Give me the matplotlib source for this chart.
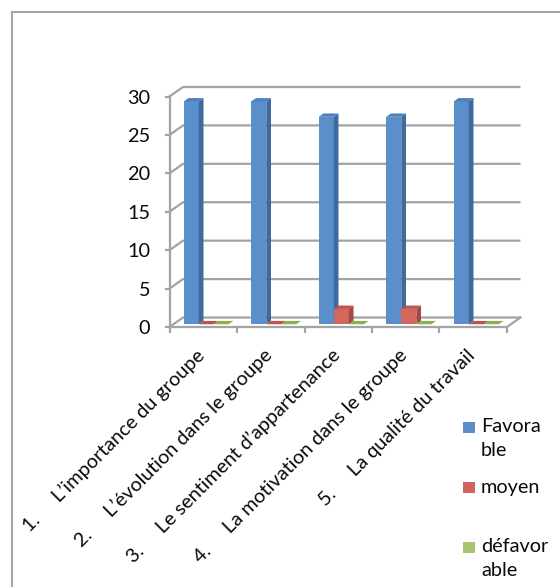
import matplotlib
matplotlib.use("Agg")
import matplotlib.pyplot as plt
from matplotlib.patches import Polygon, Rectangle
from matplotlib.lines import Line2D

plt.rcParams['font.family'] = ['Lato', 'DejaVu Sans']

# ---- data ----
categories = [
    "1.     L\u2019importance du groupe",
    "2.     L\u2019\u00e9volution dans le groupe",
    "3.     Le sentiment d\u2019appartenance",
    "4.     La motivation dans le groupe",
    "5.     La qualit\u00e9 du travail",
]
series_names = ["Favora\nble", "moyen", "d\u00e9favor\nable"]
favorable = [29, 29, 27, 27, 29]
moyen = [0, 0, 2, 2, 0]
defavorable = [0, 0, 0, 0, 0]
y_ticks = [0, 5, 10, 15, 20, 25, 30]

series = [favorable, moyen, defavorable]
# front, side, top face colours per series
face_colors = [
    ("#5B8FCB", "#3F6A9E", "#4E80BD"),
    ("#D2675E", "#A84842", "#BE534C"),
    ("#A2C364", "#7E9A48", "#8DB04F"),
]
legend_colors = ["#5B8DC9", "#CF625B", "#A7C46C"]
grid_color = "#A3A3A3"
text_color = "#0A0A0A"
fs = 14.3

W, H = 560, 587
fig = plt.figure(figsize=(W / 100, H / 100), dpi=100)
fig.patch.set_facecolor("white")

# outer chart frame (left and top edges)
fig.add_artist(Line2D([12 / W, 12 / W], [0, 1 - 12 / H], color="#A6A6A6", lw=1.5))
fig.add_artist(Line2D([12 / W, 1], [1 - 12 / H, 1 - 12 / H], color="#A6A6A6", lw=1.5))

# plot area = front plane of the 3-D box
x0p, x1p, y0p, y1p = 169.5, 507.0, 327.0, 96.5
ax = fig.add_axes([x0p / W, 1 - y0p / H, (x1p - x0p) / W, (y0p - y1p) / H])
n = len(categories)
ax.set_xlim(0, n)
ax.set_ylim(0, 30)
ax.set_facecolor("none")

# depth of the box in data units
DX = 13.5 / ((x1p - x0p) / n)
DY = 9.5 / ((y0p - y1p) / 30)

for s in ("top", "right"):
    ax.spines[s].set_visible(False)
for s in ("left", "bottom"):
    ax.spines[s].set_color(grid_color)
    ax.spines[s].set_linewidth(1.6)
    ax.spines[s].set_zorder(1)

ax.set_yticks(y_ticks)
ax.set_yticklabels([str(v) for v in y_ticks])
ax.tick_params(axis="y", direction="out", length=3.8, width=1.6, color=grid_color,
               pad=10.0, labelsize=fs, labelcolor=text_color)
ax.set_xticks(range(n + 1))
ax.set_xticklabels([])
ax.tick_params(axis="x", direction="out", length=4.3, width=1.6, color=grid_color)

# side wall diagonals and back-wall gridlines
for v in y_ticks:
    ax.plot([0, DX, n + DX], [v, v + DY, v + DY], color=grid_color, lw=1.6,
            zorder=1, clip_on=False, solid_capstyle="butt")
ax.plot([n, n + DX], [0, DY], color=grid_color, lw=1.6, zorder=1, clip_on=False)

# 3-D clustered columns
bar_w = 0.2226
group_start = 0.153
t0, t1 = 0.29, 0.64
z = 3.0
for i in range(n):
    for k, vals in enumerate(series):
        h = vals[i]
        front, side, top = face_colors[k]
        xl = i + group_start + k * bar_w
        fx = xl + t0 * DX
        fy = t0 * DY
        bx = xl + t1 * DX
        by = t1 * DY
        if h > 0:
            ax.bar(fx, h, width=bar_w, bottom=fy, align="edge", color=front,
                   linewidth=0, zorder=z, clip_on=False)
            z += 0.01
            ax.add_patch(Polygon([(fx + bar_w, fy), (bx + bar_w, by),
                                  (bx + bar_w, by + h), (fx + bar_w, fy + h)],
                                 closed=True, facecolor=side, edgecolor="none",
                                 zorder=z, clip_on=False))
            z += 0.01
        ax.add_patch(Polygon([(fx, fy + h), (fx + bar_w, fy + h),
                              (bx + bar_w, by + h), (bx, by + h)],
                             closed=True, facecolor=top, edgecolor="none",
                             zorder=z, clip_on=False))
        z += 0.01

# rotated category labels
for i, lab in enumerate(categories):
    ax.annotate(lab, xy=(i + 0.5, 0), xycoords="data",
                xytext=(3 * 0.72, -29.5 * 0.72), textcoords="offset points",
                rotation=45, rotation_mode="anchor", ha="right", va="baseline",
                fontsize=fs, color=text_color, annotation_clip=False)

# legend
leg_x, sq_w, sq_h = 463, 12, 11
for k, name in enumerate(series_names):
    cy = 427.5 + 60 * k
    fig.add_artist(Rectangle((leg_x / W, 1 - (cy + sq_h / 2) / H), sq_w / W, sq_h / H,
                             transform=fig.transFigure, facecolor=legend_colors[k],
                             edgecolor="none"))
    fig.text(481 / W, 1 - (cy - 9) / H, name, ha="left", va="top",
             fontsize=fs, linespacing=1.5, color=text_color)

fig.savefig("out.png", dpi=100, facecolor="white")
